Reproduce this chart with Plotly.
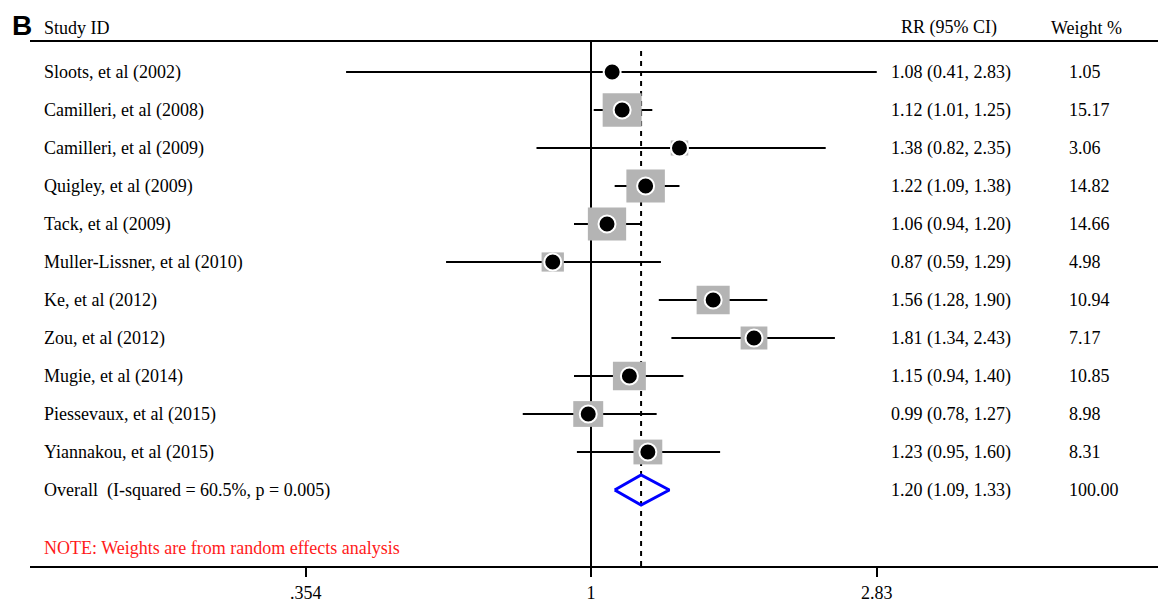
import math
import plotly.graph_objects as go

studies = ["Sloots, et al (2002)", "Camilleri, et al (2008)", "Camilleri, et al (2009)",
           "Quigley, et al (2009)", "Tack, et al (2009)", "Muller-Lissner, et al (2010)",
           "Ke, et al (2012)", "Zou, et al (2012)", "Mugie, et al (2014)",
           "Piessevaux, et al (2015)", "Yiannakou, et al (2015)"]
rr = [1.08, 1.12, 1.38, 1.22, 1.06, 0.87, 1.56, 1.81, 1.15, 0.99, 1.23]
ci_low = [0.41, 1.01, 0.82, 1.09, 0.94, 0.59, 1.28, 1.34, 0.94, 0.78, 0.95]
ci_high = [2.83, 1.25, 2.35, 1.38, 1.20, 1.29, 1.90, 2.43, 1.40, 1.27, 1.60]
weights = [1.05, 15.17, 3.06, 14.82, 14.66, 4.98, 10.94, 7.17, 10.85, 8.98, 8.31]

overall_label = "Overall  (I-squared = 60.5%, p = 0.005)"
overall_rr = 1.20
overall_low = 1.09
overall_high = 1.33
overall_weight = 100.00

tick_vals = [0.354, 1, 2.83]
tick_text = [".354", "1", "2.83"]

SERIF = "Liberation Serif"
FS = 18
# the page body has an 8px margin; compensate so the plot area lands at page x 30..1166, y 42..566
OFF = 8
PAGE_W, PAGE_H = 1166, 602
W, H = PAGE_W - OFF, PAGE_H - OFF
ML, MR, MT, MB = 30 - OFF, 0, 42 - OFF, 36
plot_w = W - ML - MR
plot_h = H - MT - MB
PLOT_LEFT = ML + OFF
PLOT_BOTTOM = PAGE_H - MB

rows = list(range(len(studies)))
overall_row = len(studies)
note_row = overall_row + 1.53

ppl_ln = 274.7          # pixels per natural-log unit on the x axis
row_px = 38.0           # pixels per row
x_one = 591             # page pixel of x = 1
first_row_px = 72       # page pixel of first row

fig = go.Figure()

shapes = []
shapes.append(dict(type="line", xref="x", yref="paper", x0=1, x1=1, y0=0, y1=1,
                   line=dict(color="black", width=2), layer="below"))
shapes.append(dict(type="line", xref="x", yref="paper", x0=overall_rr, x1=overall_rr, y0=0, y1=0.989,
                   line=dict(color="black", width=2, dash="5px,5px"), layer="below"))
for i in rows:
    shapes.append(dict(type="line", xref="x", yref="y", x0=ci_low[i], x1=ci_high[i], y0=i, y1=i,
                       line=dict(color="black", width=2), layer="below"))
for i in rows:
    hw = 5.0 * math.sqrt(weights[i]) / ppl_ln
    hh = 4.3 * math.sqrt(weights[i]) / row_px
    shapes.append(dict(type="rect", xref="x", yref="y",
                       x0=rr[i] * math.exp(-hw), x1=rr[i] * math.exp(hw), y0=i - hh, y1=i + hh,
                       fillcolor="#b4b4b4", line=dict(width=0), layer="below"))

fig.add_trace(go.Scatter(x=rr, y=rows, mode="markers",
                         marker=dict(symbol="circle", size=17, color="black",
                                     line=dict(color="white", width=2)),
                         showlegend=False, hoverinfo="skip"))

dh = 15.0 / row_px
fig.add_trace(go.Scatter(x=[overall_low, overall_rr, overall_high, overall_rr, overall_low],
                         y=[overall_row, overall_row - dh, overall_row, overall_row + dh, overall_row],
                         mode="lines", line=dict(color="#0000ff", width=3),
                         showlegend=False, hoverinfo="skip"))


def px_x(px):
    return (px - PLOT_LEFT) / plot_w


def px_y(py):
    return (PLOT_BOTTOM - py) / plot_h


def txt(s):
    return s.replace("  ", "&nbsp; ")


font = dict(family=SERIF, size=FS, color="black")
ann = []
col_study = px_x(42)
col_rr = px_x(889)
col_w = px_x(1067)
for i in rows:
    ann.append(dict(xref="paper", yref="y", x=col_study, y=i, xanchor="left", yanchor="middle",
                    text=studies[i], showarrow=False, font=font))
    ann.append(dict(xref="paper", yref="y", x=col_rr, y=i, xanchor="left", yanchor="middle",
                    text=f"{rr[i]:.2f} ({ci_low[i]:.2f}, {ci_high[i]:.2f})", showarrow=False, font=font))
    ann.append(dict(xref="paper", yref="y", x=col_w, y=i, xanchor="left", yanchor="middle",
                    text=f"{weights[i]:.2f}", showarrow=False, font=font))

ann.append(dict(xref="paper", yref="y", x=col_study, y=overall_row, xanchor="left", yanchor="middle",
                text=txt(overall_label), showarrow=False, font=font))
ann.append(dict(xref="paper", yref="y", x=col_rr, y=overall_row, xanchor="left", yanchor="middle",
                text=f"{overall_rr:.2f} ({overall_low:.2f}, {overall_high:.2f})", showarrow=False, font=font))
ann.append(dict(xref="paper", yref="y", x=col_w, y=overall_row, xanchor="left", yanchor="middle",
                text=f"{overall_weight:.2f}", showarrow=False, font=font))

ann.append(dict(xref="paper", yref="y", x=col_study, y=note_row, xanchor="left", yanchor="middle",
                text="NOTE: Weights are from random effects analysis", showarrow=False,
                font=dict(family=SERIF, size=FS, color="#ff1a1a")))

hy = px_y(28)
ann.append(dict(xref="paper", yref="paper", x=col_study, y=hy, xanchor="left", yanchor="middle",
                text="Study ID", showarrow=False, font=font))
ann.append(dict(xref="paper", yref="paper", x=px_x(899), y=hy, xanchor="left", yanchor="middle",
                text="RR (95% CI)", showarrow=False, font=font))
ann.append(dict(xref="paper", yref="paper", x=px_x(1049), y=hy, xanchor="left", yanchor="middle",
                text="Weight %", showarrow=False, font=font))
ann.append(dict(xref="paper", yref="paper", x=px_x(11), y=px_y(25), xanchor="left", yanchor="middle",
                text="<b>B</b>", showarrow=False, borderpad=0,
                font=dict(family="Liberation Sans", size=28, color="black")))

ppl = ppl_ln * math.log(10)
xr = [-(x_one - PLOT_LEFT) / ppl, (PAGE_W - x_one) / ppl]
yr = [(PLOT_BOTTOM - first_row_px) / row_px, -(first_row_px - (MT + OFF)) / row_px]

fig.update_layout(
    width=W, height=H,
    margin=dict(l=ML, r=MR, t=MT, b=MB, pad=0),
    paper_bgcolor="white", plot_bgcolor="white",
    shapes=shapes, annotations=ann,
    xaxis=dict(type="log", range=xr, tickvals=tick_vals, ticktext=tick_text,
               showgrid=False, zeroline=False, showline=True, linewidth=2, linecolor="black",
               mirror=True, ticks="outside", ticklen=9, tickwidth=2, tickcolor="black",
               tickfont=font),
    yaxis=dict(range=yr, showgrid=False, zeroline=False, showline=False,
               showticklabels=False, ticks=""),
    showlegend=False,
)

fig.write_html("out.html")
